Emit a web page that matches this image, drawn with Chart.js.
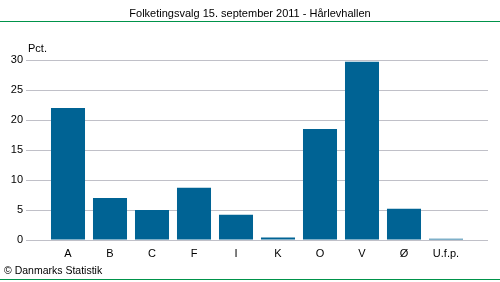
<!DOCTYPE html>
<html>
<head>
<meta charset="utf-8">
<script src="https://cdn.jsdelivr.net/npm/chart.js@4"></script>
<style>
    html, body { margin: 0; padding: 0; background: #fff; }
    #wrap { position: relative; width: 500px; height: 282px; }
</style>
</head>
<body>
<div id="wrap"><canvas id="chart" width="500" height="282"></canvas></div>
<script>
    // Data
    const categories = ["A", "B", "C", "F", "I", "K", "O", "V", "Ø", "U.f.p."];
    const pctValues = [22.0, 7.0, 5.0, 8.7, 4.2, 0.4, 18.5, 29.7, 5.2, 0.2];
    const yTicks = [0, 5, 10, 15, 20, 25, 30];

    const titleText = "Folketingsvalg 15. september 2011 - Hårlevhallen";
    const unitText = "Pct.";
    const sourceText = "© Danmarks Statistik";

    const FONT = "'Liberation Sans', Arial, sans-serif";
    const GREEN = "#00934a";

    // Title, rules and footer text
    const decorations = {
        id: "decorations",
        afterDraw(chart) {
            const ctx = chart.ctx;
            ctx.save();
            ctx.font = "11px " + FONT;
            ctx.fillStyle = "#000";
            ctx.textAlign = "center";
            ctx.textBaseline = "middle";
            ctx.fillText(titleText, 250, 14);

            ctx.textAlign = "left";
            ctx.fillText(unitText, 28, 49);
            ctx.font = "10.5px " + FONT;
            ctx.fillText(sourceText, 4, 271);

            // green rules top and bottom
            ctx.fillStyle = GREEN;
            ctx.fillRect(0, 21, 500, 1);
            ctx.fillRect(0, 279, 500, 1);
            ctx.restore();
        }
    };

    new Chart(document.getElementById("chart"), {
        type: "bar",
        data: {
            datasets: [{
                data: pctValues.map((v, i) => ({ x: i, y: v })),
                backgroundColor: "#006394",
                categoryPercentage: 1,
                barPercentage: 0.81
            }]
        },
        options: {
            responsive: false,
            animation: false,
            layout: { padding: { top: 60, right: 12, left: 0, bottom: 0 } },
            plugins: { legend: { display: false }, tooltip: { enabled: false } },
            scales: {
                x: {
                    type: "linear",
                    offset: false,
                    min: -1,
                    max: 10,
                    afterFit: s => { s.height = 42; },
                    afterBuildTicks: s => { s.ticks = categories.map((c, i) => ({ value: i })); },
                    grid: { display: false, drawTicks: false },
                    border: { display: false },
                    ticks: {
                        autoSkip: false,
                        maxRotation: 0,
                        padding: 7,
                        color: "#000",
                        font: { family: FONT, size: 11 },
                        callback: v => categories[v] ?? ""
                    }
                },
                y: {
                    min: 0,
                    max: 30,
                    afterFit: s => { s.width = 26; },
                    afterBuildTicks: s => { s.ticks = yTicks.map(v => ({ value: v })); },
                    grid: { color: "#c0c0c8", drawTicks: false },
                    border: { display: false },
                    ticks: {
                        padding: 3,
                        color: "#000",
                        font: { family: FONT, size: 11 }
                    }
                }
            }
        },
        plugins: [decorations]
    });
</script>
</body>
</html>
